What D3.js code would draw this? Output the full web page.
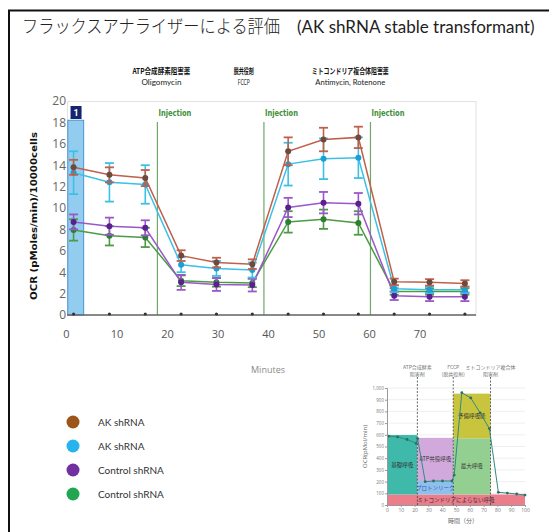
<!DOCTYPE html>
<html>
<head>
<meta charset="utf-8">
<script src="https://cdn.jsdelivr.net/npm/d3@7"></script>
<style>
  html, body { margin: 0; padding: 0; background: #fff; }
  svg { display: block; }
</style>
</head>
<body>
<div id="chart"></div>
<script>
// Measurement times (min)
const TIMES = [1.5, 8.6, 15.7, 22.8, 29.8, 36.9, 44.0, 51.0, 57.9, 65.0, 72.0, 79.0];

// OCR values per series
const AK1_VALUES = [13.8, 13.1, 12.8, 5.55, 4.9, 4.75, 15.3, 16.4, 16.6, 3.1, 3.05, 2.95];
const AK1_ERRORS = [0.7, 0.7, 0.75, 0.5, 0.45, 0.45, 1.3, 1.1, 1.0, 0.3, 0.3, 0.3];
const AK2_VALUES = [13.3, 12.4, 12.2, 4.7, 4.35, 4.2, 14.1, 14.6, 14.7, 2.45, 2.35, 2.35];
const AK2_ERRORS = [2.0, 1.8, 1.8, 0.7, 0.7, 0.7, 2.0, 1.9, 1.9, 0.3, 0.3, 0.3];
const CTL1_VALUES = [8.7, 8.3, 8.15, 3.05, 2.85, 2.8, 10.05, 10.5, 10.4, 1.8, 1.7, 1.7];
const CTL1_ERRORS = [0.7, 0.8, 0.7, 0.7, 0.6, 0.6, 0.9, 1.0, 1.0, 0.4, 0.4, 0.4];
const CTL2_VALUES = [7.95, 7.4, 7.25, 3.2, 3.05, 3.0, 8.7, 8.95, 8.6, 2.2, 2.2, 2.2];
const CTL2_ERRORS = [1.0, 0.9, 0.9, 0.5, 0.4, 0.4, 1.0, 0.9, 1.1, 0.3, 0.3, 0.3];

const SERIES_NAMES = ['AK shRNA', 'AK shRNA', 'Control shRNA', 'Control shRNA'];
const LINE_COLORS = ['#c0604a', '#3cc0e6', '#9a58c8', '#4c9c44'];
const MARK_COLORS = ['#6e4a3e', '#1e9fd0', '#5a2090', '#2e7e34'];
const LEGEND_COLORS = ['#9c5519', '#27b3ee', '#7030a0', '#22a650'];

// Injection times and labels
const INJECTIONS = [18.1, 39.2, 60.3];
const DRUG_CLASSES = ['ATP合成酵素阻害薬', '脱共役剤', 'ミトコンドリア複合体阻害薬'];
const DRUG_NAMES = ['Oligomycin', 'FCCP', 'Antimycin, Rotenone'];
const DRUG_CENTERS = [18.9, 35.2, 56.3];

const X_TICKS = [0, 10, 20, 30, 40, 50, 60, 70];
const Y_TICKS = [0, 2, 4, 6, 8, 10, 12, 14, 16, 18, 20];

// Inset (typical Seahorse profile)
const INSET_TIMES = [1.2, 7.7, 14.5, 21.2, 22.2, 27.7, 33.7, 40.2, 47.0, 48.7, 54.2, 60.7, 67.5, 74.2, 80.7, 87.2, 94.0, 100];
const INSET_OCR = [588, 582, 560, 526, 568, 199, 205, 205, 205, 256, 960, 915, 787, 653, 108, 102, 94, 85];
const INSET_BAND_LABELS = ['ミトコンドリアによらない呼吸', '基礎呼吸', 'ATP共役呼吸', 'プロトンリーク', '最大呼吸', '予備呼吸能'];
const INSET_BAND_X0 = [0, 0, 22, 22, 48, 48];
const INSET_BAND_X1 = [100, 22, 48, 48, 75, 75];
const INSET_BAND_Y0 = [0, 90, 205, 90, 90, 570];
const INSET_BAND_Y1 = [90, 598, 574, 205, 570, 952];
const INSET_BAND_COLORS = ['#ec7d8b', '#3fb9aa', '#d2a9dd', '#8fc0ec', '#93cf91', '#c9c43e'];
const INSET_DASHES = [22, 48, 75];
const INSET_DRUGS = [['ATP合成酵素', '阻害剤'], ['FCCP', '(脱共役剤)'], ['ミトコンドリア複合体', '阻害剤']];
const INSET_X_TICKS = [0, 10, 20, 30, 40, 50, 60, 70, 80, 90, 100];
const INSET_Y_TICKS = [0, 100, 200, 300, 400, 500, 600, 700, 800, 900, 1000];

const width = 549;
const height = 532;

const svg = d3.select('#chart').append('svg').attr('width', width).attr('height', height);

// Frame
svg.append('path')
  .attr('d', `M9,${height} L9,10.5 L${width},10.5`)
  .attr('fill', 'none')
  .attr('stroke', '#111')
  .attr('stroke-width', 2);

// Title
svg.append('text')
  .attr('x', 22)
  .attr('y', 33)
  .attr('font-family', '"Noto Sans CJK JP"')
  .attr('font-size', 18)
  .attr('font-weight', 300)
  .attr('fill', '#222')
  .attr('textLength', 258)
  .attr('lengthAdjust', 'spacingAndGlyphs')
  .text('フラックスアナライザーによる評価');

svg.append('text')
  .attr('x', 297)
  .attr('y', 33)
  .attr('font-family', 'Lato, "Open Sans", sans-serif')
  .attr('font-size', 17)
  .attr('fill', '#222')
  .text('(AK shRNA stable transformant)');

// Main chart scales
const x = d3.scaleLinear().domain([0, 81.2]).range([66, 476]);
const y = d3.scaleLinear().domain([0, 20]).range([315, 101]);

// Plot frame
svg.append('rect')
  .attr('x', 67.5)
  .attr('y', 101.5)
  .attr('width', 476 - 67.5)
  .attr('height', 315 - 101.5)
  .attr('fill', '#fff')
  .attr('stroke', '#e2e2e2');

// Highlighted rate period
svg.append('rect')
  .attr('x', x(0.35))
  .attr('y', y(18.2))
  .attr('width', x(3.5) - x(0.35))
  .attr('height', y(0) - y(18.2))
  .attr('fill', '#92cdef')
  .attr('stroke', '#4f93cf')
  .attr('stroke-width', 1);

svg.append('rect')
  .attr('x', x(0.9))
  .attr('y', 106)
  .attr('width', 11)
  .attr('height', 13)
  .attr('fill', '#14246e');

svg.append('text')
  .attr('x', x(0.9) + 5.5)
  .attr('y', 116)
  .attr('text-anchor', 'middle')
  .attr('font-family', 'Roboto, sans-serif')
  .attr('font-size', 9)
  .attr('font-weight', 700)
  .attr('fill', '#fff')
  .text('1');

// Injection lines
INJECTIONS.forEach(t => {
  svg.append('line')
    .attr('x1', x(t))
    .attr('x2', x(t))
    .attr('y1', 122)
    .attr('y2', y(0))
    .attr('stroke', '#6fa86a')
    .attr('stroke-width', 1.2);

  svg.append('text')
    .attr('x', x(t) + 1)
    .attr('y', 116)
    .attr('font-family', '"DejaVu Sans", sans-serif')
    .attr('font-size', 8)
    .attr('font-weight', 700)
    .attr('fill', '#3f8f3a')
    .attr('textLength', 33)
    .attr('lengthAdjust', 'spacingAndGlyphs')
    .text('Injection');
});

// Drug headers
const HEADER_WIDTHS = [58, 20, 77];
const SUB_WIDTHS = [40, 12, 70];
DRUG_CLASSES.forEach((label, i) => {
  svg.append('text')
    .attr('x', x(DRUG_CENTERS[i]) - HEADER_WIDTHS[i] / 2)
    .attr('y', 74)
    .attr('font-family', '"Noto Sans CJK JP"')
    .attr('font-size', 8)
    .attr('font-weight', 700)
    .attr('fill', '#111')
    .attr('textLength', HEADER_WIDTHS[i])
    .attr('lengthAdjust', 'spacingAndGlyphs')
    .text(label);

  svg.append('text')
    .attr('x', x(DRUG_CENTERS[i]) - SUB_WIDTHS[i] / 2)
    .attr('y', 84.5)
    .attr('font-family', 'Lato, sans-serif')
    .attr('font-size', 7)
    .attr('fill', '#222')
    .attr('textLength', SUB_WIDTHS[i])
    .attr('lengthAdjust', 'spacingAndGlyphs')
    .text(DRUG_NAMES[i]);
});

// Axes
const yAxis = svg.append('g')
  .attr('transform', 'translate(67,0)')
  .call(d3.axisLeft(y).tickValues(Y_TICKS).tickSize(0).tickPadding(1));
yAxis.select('.domain').remove();
yAxis.selectAll('text')
  .attr('font-family', '"Open Sans", sans-serif')
  .attr('font-size', 12)
  .attr('fill', '#666');

const xAxis = svg.append('g')
  .attr('transform', 'translate(0,330)')
  .call(d3.axisBottom(x).tickValues(X_TICKS).tickSize(0).tickPadding(0));
xAxis.select('.domain').remove();
xAxis.selectAll('text')
  .attr('font-family', '"Open Sans", sans-serif')
  .attr('font-size', 11)
  .attr('fill', '#555');

svg.append('line')
  .attr('x1', 67)
  .attr('x2', 476)
  .attr('y1', y(0))
  .attr('y2', y(0))
  .attr('stroke', '#666')
  .attr('stroke-width', 1.5);

svg.selectAll('.tickdot')
  .data(TIMES)
  .join('circle')
  .attr('cx', d => x(d))
  .attr('cy', y(0) - 1)
  .attr('r', 1.6)
  .attr('fill', '#333');

svg.append('text')
  .attr('x', 268)
  .attr('y', 373)
  .attr('text-anchor', 'middle')
  .attr('font-family', '"Open Sans", sans-serif')
  .attr('font-size', 9)
  .attr('fill', '#8a8a8a')
  .text('Minutes');

svg.append('text')
  .attr('transform', 'translate(37,216) rotate(-90)')
  .attr('x', -84)
  .attr('y', 0)
  .attr('font-family', '"DejaVu Sans", sans-serif')
  .attr('font-size', 8)
  .attr('font-weight', 700)
  .attr('fill', '#111')
  .attr('textLength', 168)
  .attr('lengthAdjust', 'spacingAndGlyphs')
  .text('OCR (pMoles/min)/10000cells');

// Series
const allValues = [AK1_VALUES, AK2_VALUES, CTL1_VALUES, CTL2_VALUES];
const allErrors = [AK1_ERRORS, AK2_ERRORS, CTL1_ERRORS, CTL2_ERRORS];
const drawOrder = [3, 2, 1, 0];

const line = d3.line()
  .x(d => x(d.t))
  .y(d => y(d.v));

drawOrder.forEach(s => {
  const pts = TIMES.map((t, i) => ({ t, v: allValues[s][i], e: allErrors[s][i] }));
  const g = svg.append('g');

  g.append('path')
    .datum(pts)
    .attr('d', line)
    .attr('fill', 'none')
    .attr('stroke', LINE_COLORS[s])
    .attr('stroke-width', 1.5);

  pts.forEach(p => {
    const cx = x(p.t);
    g.append('line')
      .attr('x1', cx).attr('x2', cx)
      .attr('y1', y(p.v + p.e)).attr('y2', y(p.v - p.e))
      .attr('stroke', LINE_COLORS[s])
      .attr('stroke-width', 1.6);
    [p.v + p.e, p.v - p.e].forEach(v => {
      g.append('line')
        .attr('x1', cx - 4.5).attr('x2', cx + 4.5)
        .attr('y1', y(v)).attr('y2', y(v))
        .attr('stroke', LINE_COLORS[s])
        .attr('stroke-width', 1.8);
    });
    g.append('circle')
      .attr('cx', cx)
      .attr('cy', y(p.v))
      .attr('r', 3)
      .attr('fill', MARK_COLORS[s]);
  });
});

// Legend
SERIES_NAMES.forEach((name, i) => {
  const ly = 422 + i * 24;
  svg.append('circle')
    .attr('cx', 73)
    .attr('cy', ly)
    .attr('r', 6.5)
    .attr('fill', LEGEND_COLORS[i]);
  svg.append('text')
    .attr('x', 98)
    .attr('y', ly + 3.5)
    .attr('font-family', 'Lato, sans-serif')
    .attr('font-size', 10)
    .attr('fill', '#333')
    .text(name);
});

// Inset
const ix = d3.scaleLinear().domain([0, 100]).range([387, 525]);
const iy = d3.scaleLinear().domain([0, 1000]).range([505, 388]);
const inset = svg.append('g');

inset.selectAll('.grid')
  .data(INSET_Y_TICKS)
  .join('line')
  .attr('x1', ix(0)).attr('x2', ix(100))
  .attr('y1', d => iy(d)).attr('y2', d => iy(d))
  .attr('stroke', '#e4e4e4')
  .attr('stroke-width', 0.6);

INSET_BAND_LABELS.forEach((label, i) => {
  inset.append('rect')
    .attr('x', ix(INSET_BAND_X0[i]))
    .attr('y', iy(INSET_BAND_Y1[i]))
    .attr('width', ix(INSET_BAND_X1[i]) - ix(INSET_BAND_X0[i]))
    .attr('height', iy(INSET_BAND_Y0[i]) - iy(INSET_BAND_Y1[i]))
    .attr('fill', INSET_BAND_COLORS[i]);
});

INSET_BAND_LABELS.forEach((label, i) => {
  inset.append('text')
    .attr('x', ix((INSET_BAND_X0[i] + INSET_BAND_X1[i]) / 2))
    .attr('y', iy((INSET_BAND_Y0[i] + INSET_BAND_Y1[i]) / 2) + 2)
    .attr('text-anchor', 'middle')
    .attr('font-family', '"Noto Sans CJK JP"')
    .attr('font-size', 5.5)
    .attr('fill', i === 3 ? '#2f5fb0' : '#333')
    .text(label);
});

INSET_DASHES.forEach(t => {
  inset.append('line')
    .attr('x1', ix(t)).attr('x2', ix(t))
    .attr('y1', 377).attr('y2', iy(0))
    .attr('stroke', '#444')
    .attr('stroke-width', 0.8)
    .attr('stroke-dasharray', '2,1.5');
});

INSET_DRUGS.forEach((lines, i) => {
  lines.forEach((txt, j) => {
    inset.append('text')
      .attr('x', ix(INSET_DASHES[i]))
      .attr('y', 369 + j * 7)
      .attr('text-anchor', 'middle')
      .attr('font-family', '"Noto Sans CJK JP"')
      .attr('font-size', 5)
      .attr('fill', '#777')
      .text(txt);
  });
});

const insetPts = INSET_TIMES.map((t, i) => ({ t, v: INSET_OCR[i] }));
inset.append('path')
  .datum(insetPts)
  .attr('d', d3.line().x(d => ix(d.t)).y(d => iy(d.v)))
  .attr('fill', 'none')
  .attr('stroke', '#2f8c7c')
  .attr('stroke-width', 1);

inset.selectAll('.ipt')
  .data(insetPts)
  .join('circle')
  .attr('cx', d => ix(d.t))
  .attr('cy', d => iy(d.v))
  .attr('r', 1.4)
  .attr('fill', '#2a6f63');

const iyAxis = inset.append('g')
  .attr('transform', `translate(${ix(0)},0)`)
  .call(d3.axisLeft(iy).tickValues(INSET_Y_TICKS).tickSize(2).tickPadding(1));
iyAxis.select('.domain').attr('stroke', '#999');
iyAxis.selectAll('line').attr('stroke', '#999');
iyAxis.selectAll('text')
  .attr('font-family', '"Open Sans", sans-serif')
  .attr('font-size', 4.5)
  .attr('fill', '#777');

const ixAxis = inset.append('g')
  .attr('transform', `translate(0,${iy(0)})`)
  .call(d3.axisBottom(ix).tickValues(INSET_X_TICKS).tickSize(2).tickPadding(1));
ixAxis.select('.domain').attr('stroke', '#999');
ixAxis.selectAll('line').attr('stroke', '#999');
ixAxis.selectAll('text')
  .attr('font-family', '"Open Sans", sans-serif')
  .attr('font-size', 5)
  .attr('fill', '#777');

inset.append('text')
  .attr('transform', `translate(367,${(iy(0) + iy(1000)) / 2}) rotate(-90)`)
  .attr('text-anchor', 'middle')
  .attr('font-family', '"Open Sans", sans-serif')
  .attr('font-size', 6)
  .attr('fill', '#666')
  .text('OCR(pMol/min)');

inset.append('text')
  .attr('x', ix(55))
  .attr('y', 523)
  .attr('text-anchor', 'middle')
  .attr('font-family', '"Noto Sans CJK JP"')
  .attr('font-size', 6)
  .attr('fill', '#666')
  .text('時間（分）');
</script>
</body>
</html>
